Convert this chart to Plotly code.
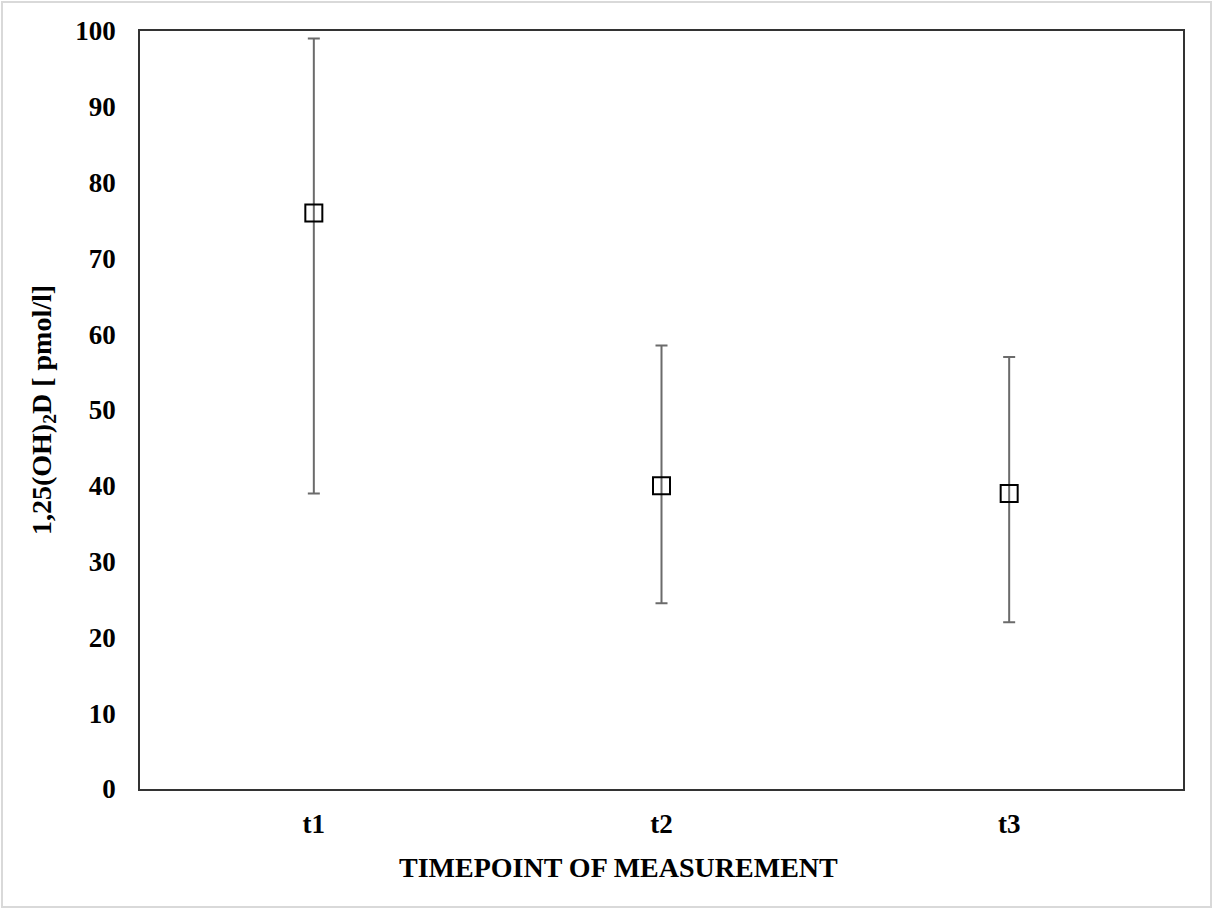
import plotly.graph_objects as go

# Timepoints and measured 1,25(OH)2D values
timepoints = ["t1", "t2", "t3"]
mean_values = [76.0, 40.0, 39.0]
upper_values = [99.0, 58.5, 57.0]
lower_values = [39.0, 24.5, 22.0]

err_plus = [u - m for u, m in zip(upper_values, mean_values)]
err_minus = [m - l for m, l in zip(mean_values, lower_values)]

W, H = 1212, 908
ML, MR, MT, MB = 140, 29, 31, 119
PW = W - ML - MR
PH = H - MT - MB

fig = go.Figure()
fig.add_trace(go.Scatter(
    x=timepoints,
    y=mean_values,
    mode="markers",
    marker=dict(symbol="square-open", size=17, color="black", line=dict(width=2, color="black")),
    error_y=dict(type="data", symmetric=False, array=err_plus, arrayminus=err_minus,
                 color="#6b6b6b", thickness=2, width=6),
    showlegend=False,
))

serif = "Liberation Serif, Times New Roman, serif"

fig.update_layout(
    width=W, height=H,
    margin=dict(l=ML, r=MR, t=MT, b=MB),
    paper_bgcolor="white",
    plot_bgcolor="white",
    font=dict(family=serif, color="black"),
    xaxis=dict(
        type="category",
        range=[-0.5, 2.5],
        showgrid=False,
        showline=True, linecolor="#333333", linewidth=1.5, mirror=True,
        ticks="",
        ticklabelstandoff=10,
        tickfont=dict(family=serif, size=27, color="black", weight="bold"),
    ),
    yaxis=dict(
        range=[0, 100],
        dtick=10,
        showgrid=False,
        zeroline=False,
        showline=True, linecolor="#333333", linewidth=1.5, mirror=True,
        ticks="",
        ticklabelstandoff=17,
        tickfont=dict(family=serif, size=27, color="black", weight="bold"),
        title=dict(text="<b>1,25(OH)<sub>2</sub>D [ pmol/l]</b>",
                   font=dict(family=serif, size=28, color="black"), standoff=16),
    ),
)

# X-axis title, set slightly left of the plot centre
fig.add_annotation(
    text="<b>TIMEPOINT OF MEASUREMENT</b>",
    xref="paper", yref="paper",
    x=(618 - ML) / PW, y=-(867 - (H - MB)) / PH,
    xanchor="center", yanchor="middle",
    showarrow=False,
    font=dict(family=serif, size=28, color="black"),
)

# Light frame around the whole figure
fig.add_shape(type="rect", xref="paper", yref="paper",
              x0=(2 - ML) / PW, x1=(W - 1 - ML) / PW,
              y0=-(MB - 1) / PH, y1=1 + (MT - 2) / PH,
              line=dict(color="#d9d9d9", width=2), fillcolor="rgba(0,0,0,0)", layer="below")

fig.write_html("out.html")
